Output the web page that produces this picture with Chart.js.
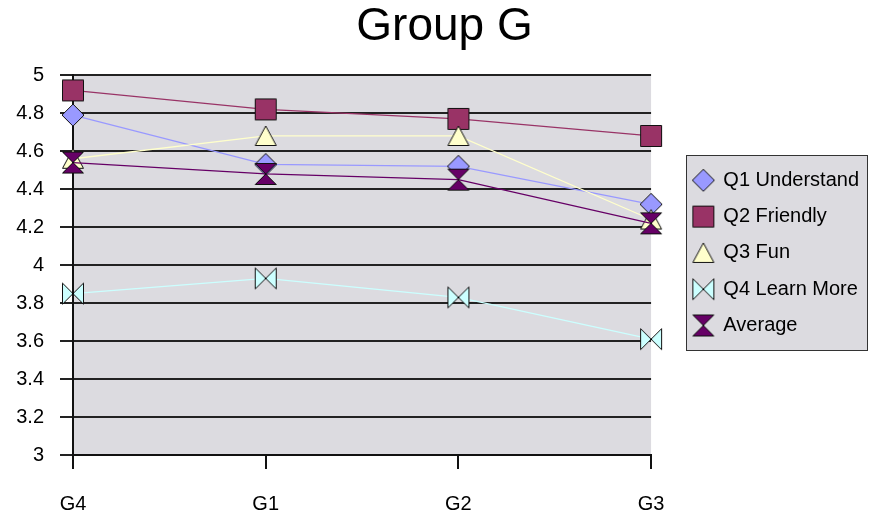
<!DOCTYPE html>
<html><head><meta charset="utf-8">
<script src="https://cdn.jsdelivr.net/npm/chart.js@4/dist/chart.umd.min.js"></script>
<style>html,body{margin:0;padding:0;background:#fff}#wrap{width:869px;height:514px;position:relative}</style>
</head><body><div id="wrap"><canvas id="c"></canvas></div>
<script>
const categories = ['G4', 'G1', 'G2', 'G3'];
const q1Understand = [4.79, 4.53, 4.52, 4.32];
const q2Friendly = [4.92, 4.82, 4.77, 4.68];
const q3Fun = [4.56, 4.68, 4.68, 4.24];
const q4LearnMore = [3.85, 3.93, 3.83, 3.61];
const average = [4.54, 4.48, 4.45, 4.22];
const seriesNames = ['Q1 Understand', 'Q2 Friendly', 'Q3 Fun', 'Q4 Learn More', 'Average'];

const FONT = "'Liberation Sans', Arial, Helvetica, sans-serif";

function makeMarker(shape, fill) {
  const s = 24;
  const cv = document.createElement('canvas');
  cv.width = s; cv.height = s;
  const g = cv.getContext('2d');
  g.fillStyle = fill; g.strokeStyle = '#111'; g.lineWidth = 1; g.lineJoin = 'miter';
  const poly = (pts) => { g.beginPath(); g.moveTo(pts[0][0], pts[0][1]); for (let i = 1; i < pts.length; i++) g.lineTo(pts[i][0], pts[i][1]); g.closePath(); g.fill(); g.stroke(); };
  if (shape === 'diamond') poly([[12, 1], [23, 12], [12, 23], [1, 12]]);
  else if (shape === 'square') poly([[1.5, 1.5], [22.5, 1.5], [22.5, 22.5], [1.5, 22.5]]);
  else if (shape === 'triangle') poly([[12, 2], [22.5, 21.5], [1.5, 21.5]]);
  else if (shape === 'bowtie') { poly([[1.5, 1.5], [12, 12], [1.5, 22.5]]); poly([[22.5, 1.5], [12, 12], [22.5, 22.5]]); g.fillStyle = '#000'; g.fillRect(11, 11, 2, 2); }
  else if (shape === 'hourglass') { poly([[1.5, 1.5], [22.5, 1.5], [12, 12]]); poly([[1.5, 22.5], [22.5, 22.5], [12, 12]]); }
  return cv;
}

const styles = [
  { data: q1Understand, line: '#9999ff', fill: '#9999ff', shape: 'diamond', order: 4 },
  { data: q2Friendly, line: '#993366', fill: '#993366', shape: 'square', order: 3 },
  { data: q3Fun, line: '#ffffcc', fill: '#ffffcc', shape: 'triangle', order: 2 },
  { data: q4LearnMore, line: '#ccffff', fill: '#ccffff', shape: 'bowtie', order: 1 },
  { data: average, line: '#660066', fill: '#660066', shape: 'hourglass', order: 0 }
];

const datasets = styles.map((st, i) => {
  const m = makeMarker(st.shape, st.fill);
  return {
    label: seriesNames[i],
    data: st.data,
    borderColor: st.line,
    backgroundColor: st.fill,
    borderWidth: 1.3,
    pointStyle: m,
    pointRadius: 11,
    pointHoverRadius: 11,
    tension: 0,
    order: st.order
  };
});

const bgPlugin = {
  id: 'bg',
  afterLayout(chart) {
    if (chart.titleBlock) { chart.titleBlock.left = 20; }
  },
  beforeDraw(chart) {
    const { ctx, chartArea: a } = chart;
    ctx.save();
    ctx.fillStyle = '#ffffff';
    ctx.fillRect(0, 0, chart.width, chart.height);
    ctx.fillStyle = '#dcdbe0';
    ctx.fillRect(a.left, a.top, a.right - a.left, a.bottom - a.top);
    const lg = chart.legend;
    if (lg && lg.legendHitBoxes && lg.legendHitBoxes.length) {
      const hb = lg.legendHitBoxes;
      const first = hb[0], last = hb[hb.length - 1];
      const x0 = Math.round(first.left - 7) + 0.5;
      const y0 = Math.round(first.top - 15) + 0.5;
      const x1 = chart.width - 1.5;
      const y1 = Math.round(last.top + last.height + 14) + 0.5;
      ctx.fillStyle = '#dcdbe0';
      ctx.fillRect(x0, y0, x1 - x0, y1 - y0);
      ctx.strokeStyle = '#333';
      ctx.lineWidth = 1;
      ctx.strokeRect(x0, y0, x1 - x0, y1 - y0);
    }
    ctx.restore();
  }
};

new Chart(document.getElementById('c'), {
  type: 'line',
  data: { labels: categories, datasets },
  plugins: [bgPlugin],
  options: {
    responsive: true,
    maintainAspectRatio: false,
    animation: false,
    layout: { padding: 0 },
    plugins: {
      title: {
        display: true, text: 'Group G', color: '#000',
        font: { family: FONT, size: 46, weight: 'normal' },
        padding: { top: 0, bottom: 20 }
      },
      legend: {
        position: 'right',
        align: 'start',
        maxWidth: 194,
        title: { display: true, text: '', font: { family: FONT, size: 10 }, padding: { top: 142, bottom: 0 } },
        labels: {
          usePointStyle: true,
          color: '#000',
          font: { family: FONT, size: 20 },
          padding: 16.3,
          sort: (a, b) => a.datasetIndex - b.datasetIndex
        }
      },
      tooltip: { enabled: false }
    },
    scales: {
      x: {
        offset: false,
        grid: { display: true, drawOnChartArea: false, drawTicks: true, tickLength: 14, color: '#111', lineWidth: 2 },
        border: { display: true, color: '#111', width: 2 },
        ticks: { color: '#000', font: { family: FONT, size: 20 }, padding: 23, maxRotation: 0 },
        afterFit: (s) => { s.height = 59; }
      },
      y: {
        min: 3, max: 5,
        grid: { color: '#222', lineWidth: 2, tickLength: 13, drawTicks: true },
        border: { display: true, color: '#111', width: 2 },
        ticks: { stepSize: 0.2, color: '#000', font: { family: FONT, size: 20 }, padding: 16,
          callback: (v) => String(Number(v.toFixed(1))) },
        afterFit: (s) => { s.width = 73; }
      },
      yPad: {
        type: 'linear', position: 'right', display: true,
        grid: { display: false, drawTicks: false }, border: { display: false },
        ticks: { display: false },
        afterFit: (s) => { s.width = 26; }
      }
    }
  }
});
</script></body></html>
